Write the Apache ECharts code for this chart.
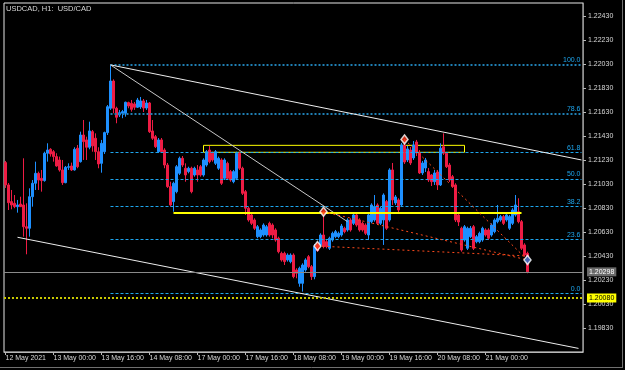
<!DOCTYPE html>
<html>
<head>
<meta charset="utf-8">
<script src="https://cdn.jsdelivr.net/npm/echarts@6/dist/echarts.min.js"></script>
<style>
html, body { margin: 0; padding: 0; background: #000; }
#chart { width: 625px; height: 370px; }
</style>
</head>
<body>
<div id="chart"></div>
<script>
var chartDom = document.getElementById('chart');
var myChart = echarts.init(chartDom);
var option;

// hourly bars, 12 May 08:00 .. 21 May 14:00
const opens = [
  1.21208, 1.21022, 1.20883, 1.20869, 1.20841, 1.20863, 1.20855, 1.20674, 1.20661, 1.20924,
  1.21036, 1.21119, 1.21077, 1.21058, 1.21286, 1.21319, 1.21299, 1.21258, 1.21230, 1.21147,
  1.21041, 1.21169, 1.21180, 1.21147, 1.21328, 1.21216, 1.21438, 1.21397, 1.21336, 1.21466,
  1.21411, 1.21299, 1.21202, 1.21299, 1.21458, 1.21661, 1.21888, 1.21661, 1.21605, 1.21619,
  1.21619, 1.21708, 1.21702, 1.21697, 1.21669, 1.21672, 1.21722, 1.21663, 1.21705, 1.21472,
  1.21424, 1.21299, 1.21397, 1.21313, 1.21188, 1.21008, 1.20883, 1.20966, 1.21119, 1.21244,
  1.21161, 1.21133, 1.21161, 1.21105, 1.21147, 1.21174, 1.21105, 1.21188, 1.21313, 1.21286,
  1.21202, 1.21161, 1.21230, 1.21077, 1.21202, 1.21133, 1.21049, 1.21077, 1.21286, 1.21161,
  1.20966, 1.20828, 1.20772, 1.20730, 1.20591, 1.20591, 1.20605, 1.20605, 1.20702, 1.20688,
  1.20647, 1.20578, 1.20452, 1.20452, 1.20397, 1.20383, 1.20438, 1.20313, 1.20202, 1.20202,
  1.20313, 1.20424, 1.20341, 1.20258, 1.20522, 1.20522, 1.20605, 1.20549, 1.20494, 1.20563,
  1.20591, 1.20591, 1.20605, 1.20661, 1.20647, 1.20730, 1.20702, 1.20772, 1.20730, 1.20702,
  1.20688, 1.20605, 1.20716, 1.20730, 1.20855, 1.20702, 1.20730, 1.20883, 1.20730, 1.21147,
  1.20872, 1.20897, 1.20855, 1.21355, 1.21230, 1.21313, 1.21247, 1.21380, 1.21288, 1.21122,
  1.21163, 1.21133, 1.21105, 1.21049, 1.21130, 1.21022, 1.21341, 1.21286, 1.21188, 1.21091,
  1.21022, 1.20772, 1.20661, 1.20563, 1.20494, 1.20591, 1.20674, 1.20549, 1.20549, 1.20563,
  1.20647, 1.20647, 1.20605, 1.20633, 1.20716, 1.20730, 1.20758, 1.20730, 1.20661, 1.20702,
  1.20772, 1.20799, 1.20716, 1.20522, 1.20452
];
const closes = [
  1.21022, 1.20874, 1.20855, 1.20841, 1.20855, 1.20841, 1.20674, 1.20661, 1.20924, 1.21036,
  1.21119, 1.21063, 1.21058, 1.21286, 1.21313, 1.21280, 1.21258, 1.21180, 1.21147, 1.21041,
  1.21169, 1.21174, 1.21147, 1.21319, 1.21174, 1.21438, 1.21383, 1.21336, 1.21472, 1.21347,
  1.21299, 1.21197, 1.21369, 1.21458, 1.21674, 1.21888, 1.21661, 1.21586, 1.21624, 1.21633,
  1.21711, 1.21680, 1.21652, 1.21669, 1.21730, 1.21722, 1.21663, 1.21705, 1.21466, 1.21411,
  1.21341, 1.21397, 1.21299, 1.21188, 1.21008, 1.20855, 1.21036, 1.21174, 1.21244, 1.21188,
  1.21105, 1.21161, 1.20966, 1.21161, 1.21105, 1.21105, 1.21230, 1.21299, 1.21216, 1.21230,
  1.21299, 1.21244, 1.21036, 1.21230, 1.21077, 1.21063, 1.21133, 1.21286, 1.21161, 1.20952,
  1.20828, 1.20730, 1.20702, 1.20661, 1.20674, 1.20647, 1.20688, 1.20674, 1.20605, 1.20605,
  1.20563, 1.20466, 1.20397, 1.20383, 1.20438, 1.20438, 1.20258, 1.20286, 1.20328, 1.20355,
  1.20397, 1.20341, 1.20258, 1.20508, 1.20474, 1.20605, 1.20508, 1.20508, 1.20578, 1.20619,
  1.20633, 1.20619, 1.20680, 1.20633, 1.20730, 1.20647, 1.20772, 1.20688, 1.20647, 1.20647,
  1.20619, 1.20772, 1.20855, 1.20841, 1.20702, 1.20828, 1.20938, 1.20661, 1.21147, 1.20897,
  1.20922, 1.20813, 1.21355, 1.21213, 1.21322, 1.21205, 1.21355, 1.21288, 1.21122, 1.21205,
  1.21230, 1.21063, 1.21049, 1.21122, 1.21022, 1.21328, 1.21286, 1.21174, 1.21063, 1.21008,
  1.20730, 1.20713, 1.20480, 1.20674, 1.20661, 1.20661, 1.20494, 1.20591, 1.20619, 1.20661,
  1.20605, 1.20578, 1.20688, 1.20730, 1.20744, 1.20758, 1.20702, 1.20772, 1.20758, 1.20813,
  1.20855, 1.20716, 1.20494, 1.20438, 1.20298
];
const lows = [
  1.20997, 1.20813, 1.20819, 1.20828, 1.20791, 1.20838, 1.20591, 1.20444, 1.20591, 1.20841,
  1.20980, 1.20980, 1.20966, 1.21049, 1.21216, 1.21258, 1.21216, 1.21174, 1.21133, 1.21022,
  1.21036, 1.21147, 1.21138, 1.21141, 1.21161, 1.21208, 1.21230, 1.21230, 1.21319, 1.21299,
  1.21230, 1.21161, 1.21124, 1.21280, 1.21438, 1.21647, 1.21619, 1.21536, 1.21588, 1.21578,
  1.21591, 1.21661, 1.21633, 1.21647, 1.21663, 1.21655, 1.21630, 1.21647, 1.21455, 1.21397,
  1.21330, 1.21288, 1.21288, 1.21161, 1.20997, 1.20841, 1.20799, 1.20952, 1.21105, 1.21172,
  1.21049, 1.21119, 1.20952, 1.21091, 1.21049, 1.21091, 1.21091, 1.21174, 1.21202, 1.21216,
  1.21188, 1.21147, 1.21022, 1.21063, 1.21063, 1.21049, 1.21036, 1.21063, 1.21147, 1.20938,
  1.20772, 1.20716, 1.20688, 1.20647, 1.20578, 1.20578, 1.20591, 1.20591, 1.20591, 1.20578,
  1.20549, 1.20452, 1.20383, 1.20355, 1.20383, 1.20369, 1.20244, 1.20244, 1.20174, 1.20133,
  1.20299, 1.20328, 1.20230, 1.20236, 1.20466, 1.20508, 1.20494, 1.20494, 1.20480, 1.20549,
  1.20578, 1.20578, 1.20591, 1.20619, 1.20633, 1.20633, 1.20688, 1.20674, 1.20633, 1.20633,
  1.20605, 1.20563, 1.20702, 1.20716, 1.20688, 1.20688, 1.20522, 1.20647, 1.20716, 1.20855,
  1.20855, 1.20788, 1.20838, 1.21197, 1.21213, 1.21188, 1.21230, 1.21263, 1.21113, 1.21105,
  1.21130, 1.21047, 1.21013, 1.21022, 1.20980, 1.21013, 1.21272, 1.21163, 1.21047, 1.20997,
  1.20713, 1.20680, 1.20466, 1.20549, 1.20480, 1.20580, 1.20480, 1.20536, 1.20536, 1.20549,
  1.20591, 1.20563, 1.20591, 1.20619, 1.20702, 1.20716, 1.20688, 1.20716, 1.20647, 1.20688,
  1.20758, 1.20702, 1.20480, 1.20424, 1.20286
];
const highs = [
  1.21222, 1.21038, 1.20980, 1.20938, 1.20897, 1.20924, 1.21244, 1.20869, 1.20994, 1.21063,
  1.21216, 1.21133, 1.21147, 1.21299, 1.21369, 1.21328, 1.21313, 1.21286, 1.21258, 1.21230,
  1.21180, 1.21202, 1.21208, 1.21336, 1.21355, 1.21466, 1.21563, 1.21424, 1.21549, 1.21480,
  1.21452, 1.21336, 1.21397, 1.21466, 1.21688, 1.22022, 1.21902, 1.21674, 1.21647, 1.21647,
  1.21716, 1.21716, 1.21730, 1.21713, 1.21747, 1.21755, 1.21738, 1.21730, 1.21713, 1.21563,
  1.21438, 1.21413, 1.21413, 1.21328, 1.21205, 1.21049, 1.21049, 1.21188, 1.21258, 1.21263,
  1.21202, 1.21174, 1.21174, 1.21174, 1.21188, 1.21188, 1.21244, 1.21313, 1.21347, 1.21299,
  1.21313, 1.21258, 1.21244, 1.21244, 1.21216, 1.21147, 1.21147, 1.21299, 1.21299, 1.21174,
  1.20980, 1.20841, 1.20786, 1.20744, 1.20688, 1.20661, 1.20702, 1.20688, 1.20716, 1.20702,
  1.20661, 1.20591, 1.20466, 1.20466, 1.20452, 1.20452, 1.20452, 1.20328, 1.20341, 1.20369,
  1.20411, 1.20438, 1.20355, 1.20530, 1.20536, 1.20619, 1.20799, 1.20563, 1.20591, 1.20633,
  1.20647, 1.20633, 1.20697, 1.20674, 1.20744, 1.20744, 1.20786, 1.20786, 1.20744, 1.20716,
  1.20702, 1.20786, 1.20869, 1.20938, 1.20869, 1.20841, 1.20952, 1.20897, 1.21161, 1.21205,
  1.20938, 1.20911, 1.21372, 1.21401, 1.21347, 1.21338, 1.21388, 1.21397, 1.21313, 1.21222,
  1.21247, 1.21163, 1.21113, 1.21147, 1.21147, 1.21369, 1.21452, 1.21297, 1.21205, 1.21105,
  1.21036, 1.20788, 1.20674, 1.20688, 1.20674, 1.20680, 1.20688, 1.20605, 1.20633, 1.20674,
  1.20661, 1.20661, 1.20702, 1.20744, 1.20855, 1.20772, 1.20772, 1.20786, 1.20772, 1.20828,
  1.20938, 1.20911, 1.20730, 1.20536, 1.20466
];

const timeLabels = ['12 May 2021', '13 May 00:00', '13 May 16:00', '14 May 08:00', '17 May 00:00',
  '17 May 16:00', '18 May 08:00', '19 May 00:00', '19 May 16:00', '20 May 08:00', '21 May 00:00'];
const priceTicks = [1.1983, 1.2003, 1.2023, 1.2043, 1.2063, 1.2083, 1.2103,
  1.2123, 1.2143, 1.2163, 1.2183, 1.2203, 1.2223, 1.2243];

// fibonacci retracement (high 13 May -> low 18 May)
const fibNames = ['100.0', '78.6', '61.8', '50.0', '38.2', '23.6', '0.0'];
const fibPrices = [1.22022, 1.21616, 1.21295, 1.21071, 1.20846, 1.20568, 1.20119];

// trend lines, [bar, price]
const channelTop = [[35, 1.22022], [192, 1.21230]];
const channelBottom = [[4, 1.20586], [191, 1.19660]];
const diagonal = [[35, 1.22022], [114, 1.20716]];
const supportLine = [[56, 1.20791], [172, 1.20791]];
const zoneBox = [[66, 1.21352], [153, 1.21294]];
const redLines = [
  [[106, 1.20799], [174, 1.20397]],
  [[104, 1.20513], [174, 1.20430]],
  [[133, 1.21401], [174, 1.20397]]
];
const pivotsRed = [[106, 1.20799], [104, 1.20513], [133, 1.21401]];
const pivotsBlue = [[174, 1.20397]];
const lastPrice = 1.20298;
const alertPrice = 1.20080;

const slotCount = 193;
const categories = Array.from({ length: slotCount }, (_, i) => i);
const candleData = opens.map((o, i) => [o, closes[i], lows[i], highs[i]]);

const font = 'Liberation Sans';
const txt = '#d8d8d8';
const showTick = (idx) => idx % 16 === 0 && idx / 16 < timeLabels.length;

const seg = (pts, style) => [
  { coord: pts[0], lineStyle: style, label: { show: false } },
  { coord: pts[1], lineStyle: style, label: { show: false } }
];

const fibLines = fibPrices.map((p, k) => {
  const strong = k < 2;
  const style = strong
    ? { color: '#1f7fb3', width: 2, type: [2, 2] }
    : { color: '#1ea6ee', width: 1, type: [3, 2] };
  const lbl = { show: true, position: 'insideEndTop', formatter: fibNames[k], color: '#1ea6ee',
    fontSize: 7, fontFamily: font, distance: 1 };
  return [
    { coord: [35, p], lineStyle: style, label: lbl },
    { coord: [192, p], lineStyle: style, label: lbl }
  ];
});

option = {
  backgroundColor: '#000',
  animation: false,
  textStyle: { fontFamily: font },
  title: {
    text: 'USDCAD, H1:  USD/CAD',
    left: 6, top: 5, padding: 0,
    textStyle: { color: txt, fontSize: 7.5, fontWeight: 'normal', fontFamily: font }
  },
  grid: { left: 4, top: 3, right: 42, bottom: 18, show: true, borderColor: '#e6e6e6', borderWidth: 1 },
  xAxis: {
    type: 'category',
    data: categories,
    boundaryGap: true,
    axisLine: { lineStyle: { color: '#b8b8b8' } },
    axisTick: { show: true, alignWithLabel: true, interval: showTick, length: 3, lineStyle: { color: '#b8b8b8' } },
    axisLabel: {
      interval: showTick,
      formatter: (v, i) => timeLabels[i / 16],
      align: 'left', color: txt, fontSize: 7, fontFamily: font, margin: 3
    },
    splitLine: { show: false }
  },
  yAxis: {
    type: 'value',
    position: 'right',
    min: 1.19630,
    max: 1.22538,
    axisLine: { show: true, lineStyle: { color: '#909090' } },
    axisTick: { show: true, length: 3, customValues: priceTicks, lineStyle: { color: '#b8b8b8' } },
    axisLabel: { customValues: priceTicks, formatter: (v) => v.toFixed(5), color: txt, fontSize: 7, fontFamily: font, margin: 5 },
    splitLine: { show: false }
  },
  graphic: [
    { type: 'line', shape: { x1: 622.5, y1: 0, x2: 622.5, y2: 368 }, style: { stroke: '#707070' }, silent: true },
    { type: 'line', shape: { x1: 0, y1: 367.5, x2: 623, y2: 367.5 }, style: { stroke: '#707070' }, silent: true }
  ],
  series: [
    {
      name: 'USDCAD',
      type: 'candlestick',
      data: candleData,
      barWidth: 1.6,
      clip: false,
      itemStyle: {
        color: '#1e90ff', color0: '#ee1c44',
        borderColor: '#1e90ff', borderColor0: '#ee1c44', borderWidth: 1
      },
      markArea: {
        silent: true,
        itemStyle: { color: 'rgba(0,0,0,0)', borderColor: '#ffff00', borderWidth: 1 },
        data: [[{ coord: zoneBox[0] }, { coord: zoneBox[1] }]]
      },
      markLine: {
        silent: true,
        symbol: ['none', 'none'],
        animation: false,
        precision: 5,
        data: [
          ...fibLines,
          seg(channelTop, { color: '#eeeeee', width: 1, type: 'solid' }),
          seg(channelBottom, { color: '#eeeeee', width: 1, type: 'solid' }),
          seg(diagonal, { color: '#c8c8c8', width: 1, type: 'solid' }),
          seg(supportLine, { color: '#ffff00', width: 2, type: 'solid' }),
          ...redLines.map((l) => seg(l, { color: '#ff4a1c', width: 1, type: [2, 3] }))
        ]
      }
    },
    {
      type: 'scatter',
      data: pivotsRed,
      symbol: 'diamond',
      symbolSize: [7, 9],
      z: 5,
      itemStyle: { color: '#ff3a1a', borderColor: '#ffffff', borderWidth: 1.5 },
      markLine: {
        silent: true,
        symbol: ['none', 'none'],
        animation: false,
        precision: 5,
        data: [
          {
            yAxis: lastPrice,
            lineStyle: { color: '#8a8a8a', width: 1, type: 'solid' },
            label: { show: true, position: 'end', distance: 4, formatter: lastPrice.toFixed(5),
              backgroundColor: '#6a6a6a', color: '#ffffff', padding: [1, 2], fontSize: 7, fontFamily: font }
          },
          {
            yAxis: alertPrice,
            lineStyle: { color: '#c8c800', width: 2, type: [2, 2] },
            label: { show: true, position: 'end', distance: 4, formatter: alertPrice.toFixed(5),
              backgroundColor: '#ffff00', color: '#000000', padding: [1, 2], fontSize: 7, fontFamily: font }
          }
        ]
      }
    },
    {
      type: 'scatter',
      data: pivotsBlue,
      symbol: 'diamond',
      symbolSize: [7, 9],
      z: 5,
      itemStyle: { color: '#1e70d0', borderColor: '#ffffff', borderWidth: 1.5 }
    }
  ]
};

option && myChart.setOption(option);
</script>
</body>
</html>
